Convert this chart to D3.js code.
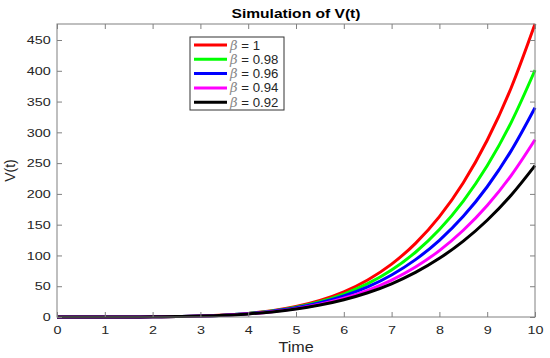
<!DOCTYPE html>
<html>
<head>
<meta charset="utf-8">
<script src="https://cdn.jsdelivr.net/npm/d3@7"></script>
<style>
  body { margin: 0; background: #fff; }
  svg { font-family: "Liberation Sans", Arial, sans-serif; }
</style>
</head>
<body>
<div id="chart"></div>
<script>
// time samples (every 0.5)
const times = [0, 0.5, 1, 1.5, 2, 2.5, 3, 3.5, 4, 4.5, 5, 5.5, 6, 6.5, 7, 7.5, 8, 8.5, 9, 9.5, 10];

// values for each beta
const vBeta100 = [0, 0, 0, 0.05, 0.21, 0.61, 1.47, 3.08, 5.85, 10.3, 17.1, 27.0, 41.0, 60.2, 85.9, 119.7, 163.1, 218.2, 287.1, 372.1, 476];
const vBeta098 = [0, 0, 0.01, 0.06, 0.23, 0.64, 1.48, 3.04, 5.66, 9.79, 16.0, 24.9, 37.3, 54.1, 76.3, 105.2, 142.1, 188.4, 245.7, 315.9, 401];
const vBeta096 = [0, 0, 0.01, 0.07, 0.24, 0.66, 1.51, 3.02, 5.50, 9.36, 15.0, 23.1, 34.1, 48.9, 68.3, 93.2, 124.6, 163.6, 211.6, 269.9, 340];
const vBeta094 = [0, 0, 0.01, 0.07, 0.24, 0.65, 1.44, 2.84, 5.11, 8.59, 13.6, 20.8, 30.4, 43.3, 60.0, 81.2, 107.9, 140.9, 181.1, 229.8, 288];
const vBeta092 = [0, 0, 0.01, 0.08, 0.26, 0.68, 1.47, 2.84, 5.01, 8.26, 12.9, 19.4, 28.1, 39.4, 54.0, 72.4, 95.3, 123.3, 157.2, 197.8, 246];

const seriesLabels = ["1", "0.98", "0.96", "0.94", "0.92"];
const seriesValues = [vBeta100, vBeta098, vBeta096, vBeta094, vBeta092];
const seriesColors = ["#ff0000", "#00ff00", "#0000ff", "#ff00ff", "#000000"];

const xTicks = [0, 1, 2, 3, 4, 5, 6, 7, 8, 9, 10];
const yTicks = [0, 50, 100, 150, 200, 250, 300, 350, 400, 450];

const W = 550, H = 358;
const margin = { top: 24, right: 15, bottom: 41, left: 57 };
const width = W - margin.left - margin.right;
const height = H - margin.top - margin.bottom;

const svg = d3.select("#chart").append("svg")
  .attr("width", W)
  .attr("height", H);

const g = svg.append("g")
  .attr("transform", `translate(${margin.left},${margin.top})`);

const x = d3.scaleLinear().domain([0, 10]).range([0, width]);
const y = d3.scaleLinear().domain([0, 476]).range([height, 0]);

const axisColor = "#808080";
const labelColor = "#262626";

// lines
const line = d3.line()
  .x(d => x(d[0]))
  .y(d => y(d[1]))
  .curve(d3.curveMonotoneX);

seriesValues.forEach((vals, i) => {
  g.append("path")
    .datum(times.map((t, j) => [t, vals[j]]))
    .attr("fill", "none")
    .attr("stroke", seriesColors[i])
    .attr("stroke-width", 3)
    .attr("d", line);
});

// axes (ticks inside, box on); the source picture is a bit stretched sideways
function styleAxis(sel, showText) {
  sel.select(".domain").remove();
  sel.selectAll(".tick line").attr("stroke", axisColor);
  sel.selectAll(".tick text")
    .attr("fill", labelColor)
    .style("font-size", "11.5px")
    .attr("transform", "scale(1.25,1)")
    .style("display", showText ? null : "none");
}

g.append("g")
  .attr("transform", `translate(0,${height})`)
  .call(d3.axisBottom(x).tickValues(xTicks).tickSizeInner(-5).tickSizeOuter(0).tickPadding(9))
  .call(s => styleAxis(s, true));

g.append("g")
  .call(d3.axisTop(x).tickValues(xTicks).tickSizeInner(-5).tickSizeOuter(0))
  .call(s => styleAxis(s, false));

g.append("g")
  .call(d3.axisLeft(y).tickValues(yTicks).tickSizeInner(-5).tickSizeOuter(0).tickPadding(5))
  .call(s => styleAxis(s, true));

g.append("g")
  .attr("transform", `translate(${width},0)`)
  .call(d3.axisRight(y).tickValues(yTicks).tickSizeInner(-5).tickSizeOuter(0))
  .call(s => styleAxis(s, false));

g.append("rect")
  .attr("x", 0).attr("y", 0)
  .attr("width", width).attr("height", height)
  .attr("fill", "none")
  .attr("stroke", axisColor)
  .attr("stroke-width", 1);

// title and axis labels
svg.append("text")
  .attr("transform", `translate(${margin.left + width / 2},18) scale(1.2,1)`)
  .attr("text-anchor", "middle")
  .style("font-size", "13px")
  .style("font-weight", "bold")
  .attr("fill", "#000")
  .text("Simulation of V(t)");

svg.append("text")
  .attr("transform", `translate(${margin.left + width / 2},352) scale(1.15,1)`)
  .attr("text-anchor", "middle")
  .style("font-size", "14px")
  .attr("fill", labelColor)
  .text("Time");

svg.append("text")
  .attr("transform", `translate(15,${margin.top + height / 2}) rotate(-90)`)
  .attr("text-anchor", "middle")
  .style("font-size", "14px")
  .attr("fill", labelColor)
  .text("V(t)");

// legend
const legend = svg.append("g").attr("transform", "translate(190,37)");
legend.append("rect")
  .attr("width", 94).attr("height", 73)
  .attr("fill", "#fff")
  .attr("stroke", "#333")
  .attr("stroke-width", 1);

seriesLabels.forEach((lab, i) => {
  const item = legend.append("g").attr("transform", `translate(0,${8 + i * 14.3})`);
  item.append("line")
    .attr("x1", 4).attr("x2", 37)
    .attr("y1", 0).attr("y2", 0)
    .attr("stroke", seriesColors[i])
    .attr("stroke-width", 3);
  const t = item.append("text")
    .attr("transform", "translate(40,4.5) scale(1.1,1)")
    .style("font-size", "12px")
    .attr("fill", labelColor);
  t.append("tspan")
    .style("font-family", "'DejaVu Serif', serif")
    .style("font-style", "italic")
    .attr("fill", "#888")
    .text("β");
  t.append("tspan").text(" = " + lab);
});
</script>
</body>
</html>
